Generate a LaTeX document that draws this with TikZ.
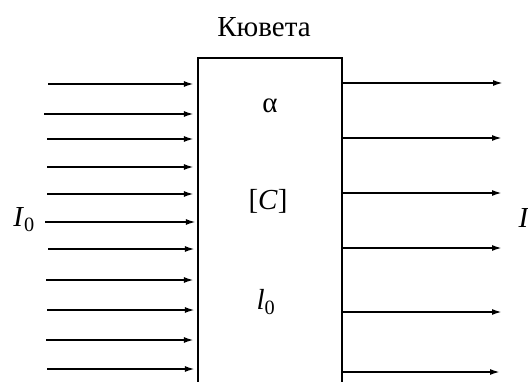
\documentclass[tikz,border=0pt]{standalone}
\usepackage{fontspec}
\setmainfont{Liberation Serif}
\usetikzlibrary{
    arrows.meta,
    positioning
}

\begin{document}
\begin{tikzpicture}[
    x=1pt,
    y=-1pt,
    >={Latex[length=10pt,width=6pt]},
    every node/.style={font=\fontsize{29}{34}\selectfont},
    cuvette/.style={
        draw=black,
        line width=2.2pt,
        minimum width=144pt,
        minimum height=345pt,
        inner sep=0pt
    },
    beam/.style={
        ->,
        line width=1.8pt
    }
]

\path[use as bounding box, clip] (0,0) rectangle (528,381);

% ============================================================
% CUVETTE
% ============================================================

\node[cuvette, anchor=north]
    (cuv) at (270,57) {};

\node
    (title) at (264,27)
    {Кювета};

\node (alpha) at (270,106) {α};
\node (conc) at (268,201) {[\textit{C}]};
\node (len) at (266,302) {\textit{l}\textsubscript{0}};

% ============================================================
% INCIDENT BEAM
% ============================================================

\node (Izero) at (24,220) {\textit{I}\textsubscript{0}};

\coordinate (in1) at (48,84);
\coordinate (in2) at (44,114);
\coordinate (in3) at (47,139);
\coordinate (in4) at (47,167);
\coordinate (in5) at (47,194);
\coordinate (in6) at (45,222);
\coordinate (in7) at (48,249);
\coordinate (in8) at (46,280);
\coordinate (in9) at (47,310);
\coordinate (in10) at (46,340);
\coordinate (in11) at (47,369);

\draw[beam, shorten >=3pt] (in1) -- (in1 -| cuv.west);
\draw[beam, shorten >=3pt] (in2) -- (in2 -| cuv.west);
\draw[beam, shorten >=3pt] (in3) -- (in3 -| cuv.west);
\draw[beam, shorten >=3pt] (in4) -- (in4 -| cuv.west);
\draw[beam, shorten >=3pt] (in5) -- (in5 -| cuv.west);
\draw[beam, shorten >=1pt] (in6) -- (in6 -| cuv.west);
\draw[beam, shorten >=2pt] (in7) -- (in7 -| cuv.west);
\draw[beam, shorten >=3pt] (in8) -- (in8 -| cuv.west);
\draw[beam, shorten >=2pt] (in9) -- (in9 -| cuv.west);
\draw[beam, shorten >=3pt] (in10) -- (in10 -| cuv.west);
\draw[beam, shorten >=2pt] (in11) -- (in11 -| cuv.west);

% ============================================================
% TRANSMITTED BEAM
% ============================================================

\node (Iout) at (524,218) {\textit{I}};

\coordinate (out1) at (503,83);
\coordinate (out2) at (502,138);
\coordinate (out3) at (502,193);
\coordinate (out4) at (502,248);
\coordinate (out5) at (502,312);
\coordinate (out6) at (500,372);

\draw[beam] (out1 -| cuv.east) -- (out1);
\draw[beam] (out2 -| cuv.east) -- (out2);
\draw[beam] (out3 -| cuv.east) -- (out3);
\draw[beam] (out4 -| cuv.east) -- (out4);
\draw[beam] (out5 -| cuv.east) -- (out5);
\draw[beam] (out6 -| cuv.east) -- (out6);

\end{tikzpicture}
\end{document}
